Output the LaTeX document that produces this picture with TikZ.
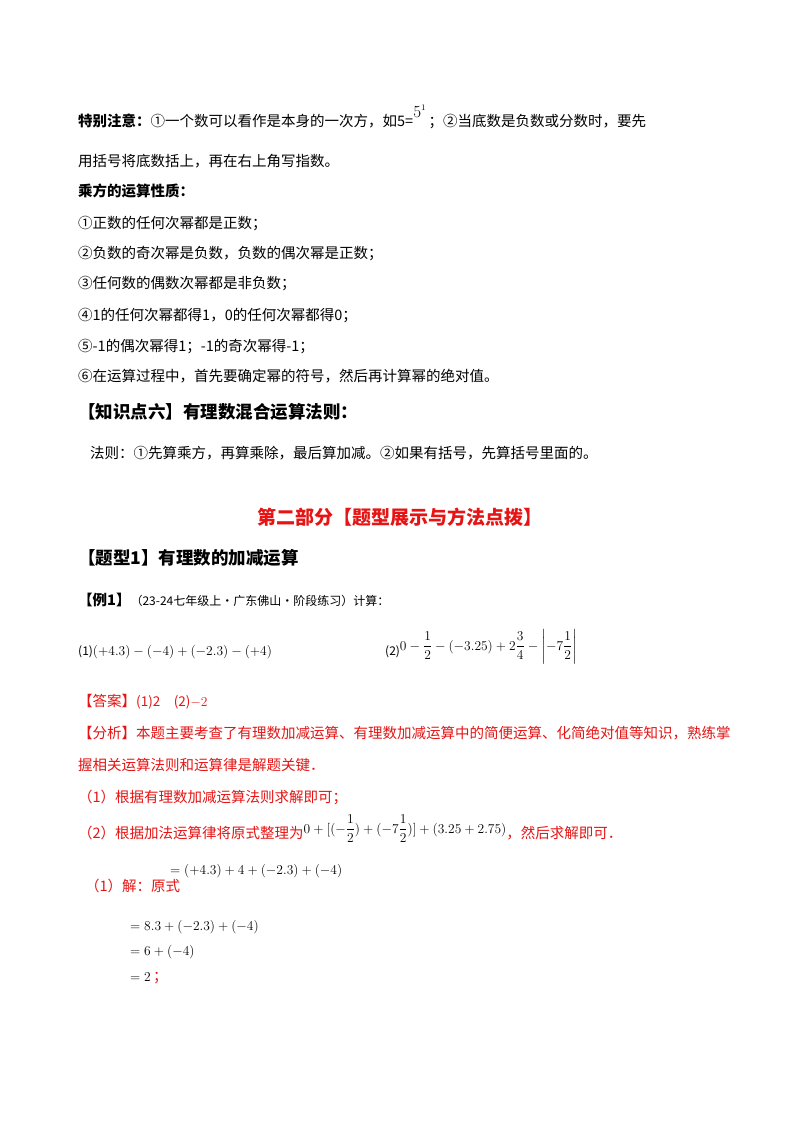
\documentclass[tikz,border=0pt]{standalone}
\usepackage{fix-cm}
\usepackage{fontspec}
\usepackage{amsmath}
\setmainfont{Noto Sans CJK SC}
\definecolor{rd}{RGB}{230,20,20}
\begin{document}
\begin{tikzpicture}[x=1pt,y=-1pt,
  t/.style={anchor=base west,inner sep=0pt,font=\fontsize{14.5}{17}\selectfont},
  m/.style={anchor=base west,inner sep=0pt,font=\fontsize{13.5}{16}\selectfont},
  h/.style={anchor=base west,inner sep=0pt,font=\fontsize{17.5}{20}\selectfont\bfseries},
  r/.style={t,text=rd}]
\useasboundingbox[fill=white] (0,0) rectangle (800,1132);
\node[t] (l1) at (78,126) {\textbf{特别注意：}①一个数可以看作是本身的一次方，如5=\raisebox{9pt}{\fontsize{17}{18}\selectfont$5^{\scriptscriptstyle 1}$}\,；②当底数是负数或分数时，要先};
\node[t] (l2) at (78,166) {用括号将底数括上，再在右上角写指数。};
\node[t] (l3) at (78,196) {\textbf{乘方的运算性质：}};
\node[t] (l4) at (78,228) {①正数的任何次幂都是正数；};
\node[t] (l5) at (78,258) {②负数的奇次幂是负数，负数的偶次幂是正数；};
\node[t] (l6) at (78,288) {③任何数的偶数次幂都是非负数；};
\node[t] (l7) at (78,320) {④1的任何次幂都得1，0的任何次幂都得0；};
\node[t] (l8) at (78,351) {⑤-1的偶次幂得1；-1的奇次幂得-1；};
\node[t] (l9) at (78,381) {⑥在运算过程中，首先要确定幂的符号，然后再计算幂的绝对值。};
\node[h] (k6) at (78,418) {【知识点六】有理数混合运算法则：};
\node[t] (fz) at (90,458) {法则：①先算乘方，再算乘除，最后算加减。②如果有括号，先算括号里面的。};
\node[anchor=base,inner sep=0pt,font=\fontsize{19}{22}\selectfont\bfseries,text=rd] (ti) at (400,524) {第二部分【题型展示与方法点拨】};
\node[h] (tx) at (78,564) {【题型1】有理数的加减运算};
\node[t] (ex) at (78,605) {\textbf{【例1】}\fontsize{12}{14}\selectfont（23-24七年级上·广东佛山·阶段练习）计算：};
\node[m] (q1) at (78,655) {{\fontsize{12}{14}\selectfont(1)}$(+4.3)-(-4)+(-2.3)-(+4)$};
\node[m] (q2) at (385,655) {{\fontsize{12}{14}\selectfont(2)}\raisebox{5pt}{$0-\dfrac12-(-3.25)+2\dfrac34-\left|-7\dfrac12\right|$}};
\node[r] (an) at (78,706) {【答案】{\fontsize{13.5}{16}\selectfont(1)2\quad (2)$-2$}};
\node[r] (a1) at (78,738) {【分析】本题主要考查了有理数加减运算、有理数加减运算中的简便运算、化简绝对值等知识，熟练掌};
\node[r] (a2) at (78,770) {握相关运算法则和运算律是解题关键．};
\node[r] (a3) at (78,802) {（1）根据有理数加减运算法则求解即可；};
\node[r] (a4) at (78,838) {（2）根据加法运算律将原式整理为\raisebox{5pt}{\color{black}\fontsize{13.5}{16}\selectfont$0+[(-\dfrac12)+(-7\dfrac12)]+(3.25+2.75)$}，然后求解即可．};
\node[r] (s1) at (85,891) {（1）解：原式};
\node[m] (e1) at (170,874) {$=(+4.3)+4+(-2.3)+(-4)$};
\node[m] (e2) at (130,930) {$=8.3+(-2.3)+(-4)$};
\node[m] (e3) at (130,955) {$=6+(-4)$};
\node[m] (e4) at (130,981) {$=2$\,\textcolor{rd}{\fontsize{14.5}{17}\selectfont；}};
\end{tikzpicture}
\end{document}
